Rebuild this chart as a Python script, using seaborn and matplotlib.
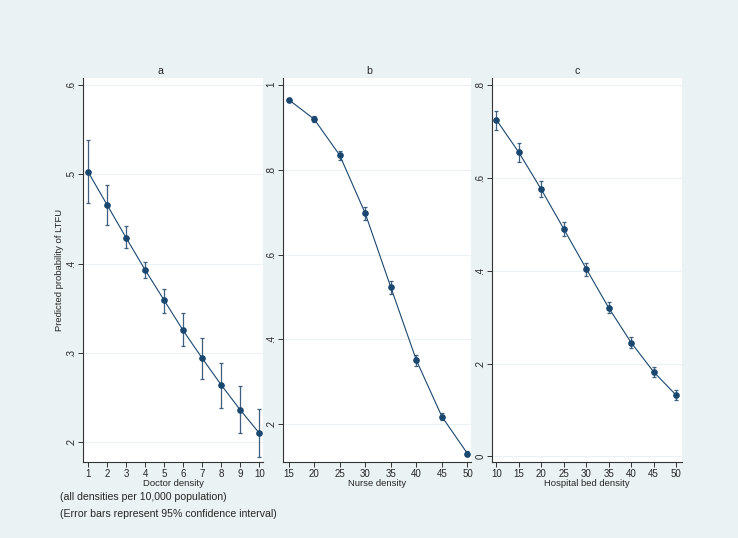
import numpy as np, pandas as pd
import matplotlib
matplotlib.use("Agg")
import matplotlib.pyplot as plt
import seaborn as sns

# ── Data ──────────────────────────────────────────────────────
doctor_x   = [1, 2, 3, 4, 5, 6, 7, 8, 9, 10]
doctor_p   = [0.503, 0.466, 0.429, 0.393, 0.359, 0.325, 0.294, 0.264, 0.236, 0.210]
doctor_lo  = [0.468, 0.443, 0.417, 0.384, 0.345, 0.307, 0.271, 0.238, 0.210, 0.183]
doctor_hi  = [0.538, 0.488, 0.442, 0.402, 0.372, 0.344, 0.317, 0.289, 0.263, 0.237]

nurse_x    = [15, 20, 25, 30, 35, 40, 45, 50]
nurse_p    = [0.965, 0.919, 0.834, 0.697, 0.523, 0.351, 0.218, 0.131]
nurse_lo   = [0.961, 0.912, 0.822, 0.681, 0.507, 0.338, 0.209, 0.125]
nurse_hi   = [0.969, 0.926, 0.845, 0.711, 0.538, 0.363, 0.227, 0.138]

bed_x      = [10, 15, 20, 25, 30, 35, 40, 45, 50]
bed_p      = [0.725, 0.655, 0.575, 0.490, 0.404, 0.320, 0.245, 0.182, 0.132]
bed_lo     = [0.703, 0.635, 0.558, 0.474, 0.389, 0.308, 0.233, 0.170, 0.121]
bed_hi     = [0.745, 0.674, 0.593, 0.505, 0.417, 0.333, 0.258, 0.193, 0.142]

titles   = ["a", "b", "c"]
xlabels  = ["Doctor density", "Nurse density", "Hospital bed density"]
yticks   = [[0.2, 0.3, 0.4, 0.5, 0.6], [0.2, 0.4, 0.6, 0.8, 1.0], [0.0, 0.2, 0.4, 0.6, 0.8]]
ytlabels = [[".2", ".3", ".4", ".5", ".6"], [".2", ".4", ".6", ".8", "1"], ["0", ".2", ".4", ".6", ".8"]]

series = [(doctor_x, doctor_p, doctor_lo, doctor_hi),
          (nurse_x, nurse_p, nurse_lo, nurse_hi),
          (bed_x, bed_p, bed_lo, bed_hi)]

# ── Layout (pixels) ───────────────────────────────────────────
W, H = 738, 538
boxes   = [(83, 263, 78, 462), (283, 471, 78, 462), (492, 682, 78, 462)]   # l, r, t, b
ylims   = [(0.1775, 0.608), (0.111, 1.016), (-0.012, 0.815)]
xlims   = [(0.74, 10.2), (13.9, 50.7), (9.04, 51.3)]
title_x = [160, 369, 577]

BG    = "#eaf2f3"
NAVY  = "#1a476f"
ERR   = "#3e5f7e"
GRID  = "#eaf2f3"
FS_TICK, FS_LAB, FS_NOTE = 7.0, 6.8, 7.6

sns.set_style("white")
plt.rcParams["font.family"] = ["Liberation Sans", "DejaVu Sans"]

fig = plt.figure(figsize=(W/100, H/100), dpi=100, facecolor=BG)

for i, (xs, ps, lo, hi) in enumerate(series):
    l, r, t, b = boxes[i]
    ax = fig.add_axes([l/W, 1 - b/H, (r - l)/W, (b - t)/H])
    ax.set_facecolor("white")
    df = pd.DataFrame({"x": xs, "p": ps, "lo": lo, "hi": hi})
    ax.errorbar(df["x"], df["p"],
                yerr=[df["p"] - df["lo"], df["hi"] - df["p"]],
                fmt="none", ecolor=ERR, elinewidth=0.9, capsize=1.7,
                capthick=0.9, zorder=2)
    sns.lineplot(data=df, x="x", y="p", ax=ax, color=NAVY, linewidth=0.8,
                 marker="o", markersize=4, markeredgecolor=NAVY,
                 markerfacecolor=NAVY, zorder=3)
    ax.set_ylim(*ylims[i])
    ax.set_xlim(*xlims[i])
    ax.set_yticks(yticks[i])
    ax.set_yticklabels(ytlabels[i], rotation=90, va="center", fontsize=FS_TICK)
    ax.set_xticks(xs)
    ax.set_xticklabels([str(v) for v in xs], fontsize=FS_TICK)
    ax.grid(axis="y", color=GRID, linewidth=0.8)
    ax.set_axisbelow(True)
    for s in ["top", "right"]:
        ax.spines[s].set_visible(False)
    for s in ["left", "bottom"]:
        ax.spines[s].set_color("#333333")
        ax.spines[s].set_linewidth(0.8)
    ax.tick_params(axis="both", direction="out", length=3.5, width=0.7,
                   color="#333333", pad=1.2, left=True, bottom=True)
    ax.set_xlabel(xlabels[i], fontsize=FS_LAB, labelpad=0.3)
    ax.set_ylabel("")
    if i == 0:
        ax.set_ylabel("Predicted probability of LTFU", fontsize=FS_LAB, labelpad=1.5)
    fig.text(title_x[i]/W, 1 - 71/H, titles[i], fontsize=FS_NOTE,
             ha="center", va="center")

fig.text(60/W, 1 - 497/H, "(all densities per 10,000 population)",
         fontsize=FS_NOTE, va="center", ha="left")
fig.text(60/W, 1 - 514/H, "(Error bars represent 95% confidence interval)",
         fontsize=FS_NOTE, va="center", ha="left")

plt.savefig("out.png", dpi=100, facecolor=BG)
plt.close()
